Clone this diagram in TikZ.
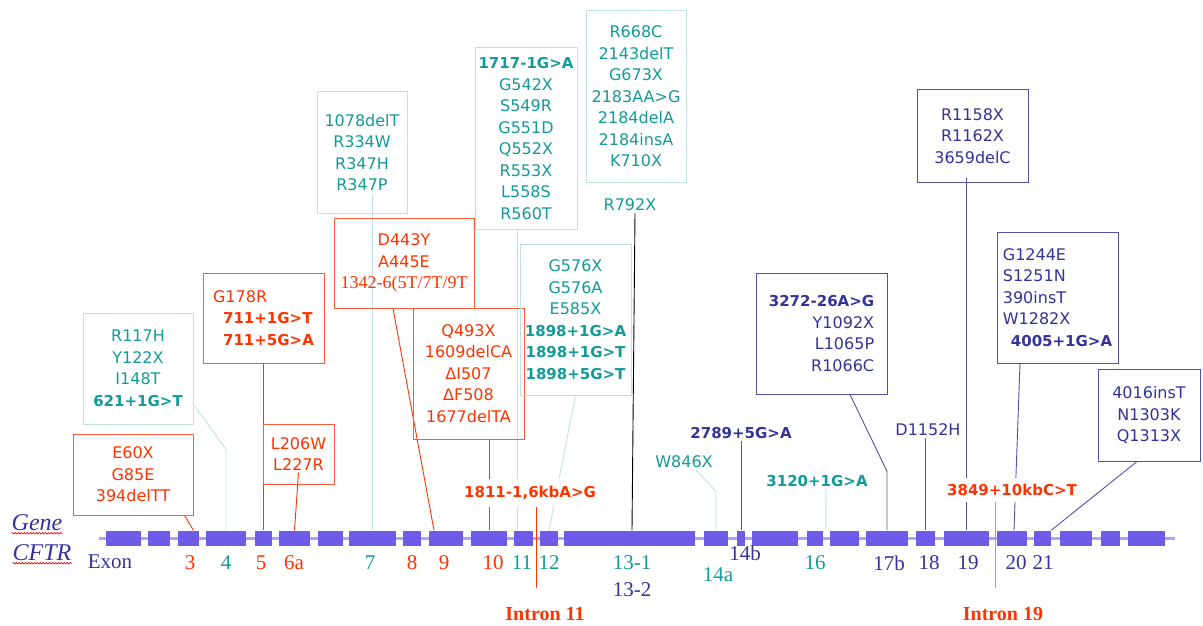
\documentclass[tikz,border=0pt]{standalone}
\usepackage{fontspec}
\usepackage{tikz}
\usetikzlibrary{positioning,calc,backgrounds,decorations.pathmorphing}
\newfontfamily\mutfont{DejaVu Sans}
\newfontfamily\exfont{Liberation Serif}
\definecolor{mutRed}{HTML}{FF3300}
\definecolor{boxRed}{HTML}{FF5A3A}
\definecolor{mutTeal}{HTML}{149A9A}
\definecolor{boxTeal}{HTML}{BFE2E6}
\definecolor{mutNavy}{HTML}{33339A}
\definecolor{boxNavy}{HTML}{5252AE}
\definecolor{exonBlue}{HTML}{6E5CE8}
\definecolor{barBlue}{HTML}{ADA2F2}
\definecolor{intronPink}{HTML}{F4836E}
\newcommand{\bmut}[1]{{\bfseries\fontsize{15}{21.5}\selectfont #1}}

\begin{document}
\begin{tikzpicture}[x=1pt, y=-1pt,
    mut/.style={font=\mutfont\fontsize{16}{21.5}\selectfont, align=center, inner sep=2pt},
    mbox/.style={mut, draw, line width=1pt},
    exon/.style={fill=exonBlue, minimum height=15pt, inner sep=0pt},
    exlab/.style={font=\exfont\fontsize{21}{24}\selectfont, inner sep=0pt},
    wire/.style={line width=0.9pt}]
    \useasboundingbox (0,0) rectangle (1203,626);

    % mutation boxes
    \node[mbox, draw=boxTeal, text=mutTeal, minimum width=110pt, minimum height=111pt] (r117) at (138,368.5)
      {R117H\\Y122X\\I148T\\\bmut{621+1G>T}};
    \node[mbox, draw=boxRed, text=mutRed, minimum width=120pt, minimum height=81pt] (e60) at (133,474.5)
      {E60X\\G85E\\394delTT};
    \node[mbox, draw=boxRed, text=mutRed, minimum width=121pt, minimum height=90pt, align=left] (g178) at (263.5,318)
      {G178R\\\hspace*{10pt}\bmut{711+1G>T}\\\hspace*{10pt}\bmut{711+5G>A}};
    \node[mbox, draw=boxRed, text=mutRed, minimum width=71pt, minimum height=60pt] (l206) at (298.5,454)
      {L206W\\L227R};
    \node[mbox, draw=boxTeal, text=mutTeal, minimum width=90pt, minimum height=121pt] (del1078) at (362,152.5)
      {1078delT\\R334W\\R347H\\R347P};
    \node[mbox, draw=boxRed, text=mutRed, minimum width=140pt, minimum height=90pt] (d443) at (404,263)
      {D443Y\\A445E\\{\exfont\fontsize{18}{21.5}\selectfont 1342-6(5T/7T/9T}};
    \node[mbox, draw=boxRed, text=mutRed, minimum width=111pt, minimum height=131pt] (q493) at (468.5,373.5)
      {Q493X\\1609delCA\\ΔI507\\ΔF508\\1677delTA};
    \node[mbox, draw=boxTeal, text=mutTeal, minimum width=102pt, minimum height=181pt] (m1717) at (526,138.5)
      {\bmut{1717-1G>A}\\G542X\\S549R\\G551D\\Q552X\\R553X\\L558S\\R560T};
    \node[mbox, draw=boxTeal, text=mutTeal, minimum width=100pt, minimum height=171pt] (r668) at (636,96.5)
      {R668C\\2143delT\\G673X\\2183AA>G\\2184delA\\2184insA\\K710X};
    \node[mbox, draw=boxTeal, text=mutTeal, minimum width=111pt, minimum height=151pt] (g576) at (575.5,319.5)
      {G576X\\G576A\\E585X\\\bmut{1898+1G>A}\\\bmut{1898+1G>T}\\\bmut{1898+5G>T}};
    \node[mbox, draw=boxNavy, text=mutNavy, minimum width=131pt, minimum height=121pt, align=right] (m3272) at (821.5,333.5)
      {\bmut{3272-26A>G}\\Y1092X\\L1065P\\R1066C};
    \node[mbox, draw=boxNavy, text=mutNavy, minimum width=111pt, minimum height=92pt] (r1158) at (972.5,136)
      {R1158X\\R1162X\\3659delC};
    \node[mbox, draw=boxNavy, text=mutNavy, minimum width=121pt, minimum height=131pt, align=left] (g1244) at (1057.5,297.5)
      {G1244E\\S1251N\\390insT\\W1282X\\\hspace*{8pt}\bmut{4005+1G>A}};
    \node[mbox, draw=boxNavy, text=mutNavy, minimum width=102pt, minimum height=92pt] (i4016) at (1149,415)
      {4016insT\\N1303K\\Q1313X};

    % single labels
    \node[mut, text=mutTeal] (r792) at (630,205) {R792X};
    \node[mut, text=mutTeal] (w846) at (684,462) {W846X};
    \node[mut, text=mutNavy] (m2789) at (741,433) {\bmut{2789+5G>A}};
    \node[mut, text=mutTeal] (m3120) at (817,481) {\bmut{3120+1G>A}};
    \node[mut, text=mutNavy] (d1152) at (928,430) {D1152H};
    \node[mut, text=mutRed, fill=white, inner ysep=6pt] (m3849) at (1012,490) {\bmut{3849+10kbC>T}};
    \node[mut, text=mutRed, fill=white, inner ysep=7pt] (m1811) at (530,493) {\bmut{1811-1,6kbA>G}};

    % gene and exons
    \foreach \n/\a/\b in {1/106/141, 2/148/170, 3/178/199, 4/206/246, 5/255/272, 6a/279/310, 6b/318/343,
        7/349/396, 8/403/421, 9/429/463, 10/471/507, 11/514/533, 12/540/558, 13/564/695, 14a/704/728,
        14b/737/745, 15/752/798, 16/807/823, 17a/830/859, 17b/866/908, 18/916/935, 19/944/989,
        20/997/1027, 21/1034/1051, 22/1060/1092, 23/1101/1120, 24/1128/1165}
      {\pgfmathsetmacro{\w}{\b-\a}
       \node[exon, minimum width=\w pt] (ex\n) at ({(\a+\b)/2},538) {};}
    \foreach \t/\c/\px/\py [count=\i] in {3/mutRed/190/563, 4/mutTeal/226/563, 5/mutRed/261/563,
        6a/mutRed/294/563, 7/mutTeal/370/563, 8/mutRed/412/563, 9/mutRed/444/563, 10/mutRed/493/563,
        11/mutTeal/522/563, 12/mutTeal/549/563, 13-1/mutTeal/632/563, 13-2/mutNavy/632/590,
        14a/mutTeal/718/575, 14b/mutNavy/745/553, 16/mutTeal/815/563, 17b/mutNavy/889/563,
        18/mutNavy/929/563, 19/mutNavy/968/563, 20/mutNavy/1016/563, 21/mutNavy/1043/563}
      \node[exlab, text=\c] (exl\i) at (\px,\py) {\t};

    \node[font=\exfont\itshape\fontsize{24}{26}\selectfont, text=mutNavy, inner sep=0pt] (gene) at (37,523) {Gene};
    \node[font=\exfont\itshape\fontsize{24}{26}\selectfont, text=mutNavy, inner sep=0pt] (cftr) at (42,553) {CFTR};
    \node[exlab, text=mutNavy] (exon) at (110,562) {Exon};
    \draw[red, line width=0.6pt, decorate, decoration={snake, amplitude=0.8pt, segment length=3pt}]
      ([yshift=-2pt]gene.south west) -- ([yshift=-2pt]gene.south east);
    \draw[red, line width=0.6pt, decorate, decoration={snake, amplitude=0.8pt, segment length=3pt}]
      ([yshift=-2pt]cftr.south west) -- ([yshift=-2pt]cftr.south east);

    \node[font=\exfont\bfseries\fontsize{20}{22}\selectfont, text=mutRed, inner sep=0pt] (intr11) at (545,614) {Intron 11};
    \node[font=\exfont\bfseries\fontsize{20}{22}\selectfont, text=mutRed, inner sep=0pt] (intr19) at (1003,614) {Intron 19};
    \coordinate (int11) at (536,588);
    \coordinate (int19) at (995,588);
    \coordinate (barL) at (99,538);
    \coordinate (barR) at (1175,538);

    \begin{scope}[on background layer]
      \fill[white] (0,0) rectangle (1203,626);
      \draw[barBlue, line width=3pt] (barL) -- (barR);
      % connectors
      \draw[wire, boxTeal] ([yshift=20pt]r117.south east) -- ([yshift=81pt]ex4.north) -- (ex4.north);
      \draw[wire, mutRed] ([xshift=-9pt]e60.south east) -- ([xshift=5pt]ex3.north);
      \draw[wire, mutRed] (g178.south) -- (ex5.north);
      \draw[wire, mutRed] ([yshift=12pt]l206.south) -- (ex6a.north);
      \draw[wire, boxTeal] ($(ex7.north |- del1078.south)+(0,-20)$) -- (ex7.north);
      \draw[wire, mutRed] ([xshift=-11pt]d443.south) -- ([xshift=-12pt]ex9.north);
      \draw[wire, mutRed] (ex10.north |- q493.south) -- (ex10.north);
      \draw[wire, boxTeal] ([xshift=-9pt]m1717.south) -- ([xshift=-6.5pt]ex11.north);
      \draw[wire, black] ([xshift=5pt]r792.south) -- ([xshift=2.5pt]ex13.north);
      \draw[wire, boxTeal] (g576.south) -- (ex12.north);
      \draw[wire, boxTeal] ([xshift=12pt]w846.south) -- ([yshift=39pt]ex14a.north) -- (ex14a.north);
      \draw[wire, boxNavy] (ex14b.north |- m2789.south) -- (ex14b.north);
      \draw[wire, boxTeal] ([xshift=9pt]m3120.south) -- ([xshift=-4pt]ex17a.north west);
      \draw[wire, boxNavy] ([xshift=28.5pt]m3272.south) -- ([yshift=59pt]ex17b.north) -- (ex17b.north);
      \draw[wire, boxNavy] (ex18.north |- d1152.south) -- (ex18.north);
      \draw[wire, boxNavy] ($(ex19.north |- r1158.south)+(0,-5)$) -- (ex19.north);
      \draw[wire, boxNavy] ([xshift=-37.5pt]g1244.south) -- ([xshift=2pt]ex20.north);
      \draw[wire, boxNavy] ([xshift=-12pt]i4016.south) -- (ex21.north east);
      \draw[wire, mutRed] (int11 |- m1811.south) -- (int11);
      \draw[wire, intronPink] (int19 |- m3849.south) -- (int19);
    \end{scope}
\end{tikzpicture}
\end{document}
